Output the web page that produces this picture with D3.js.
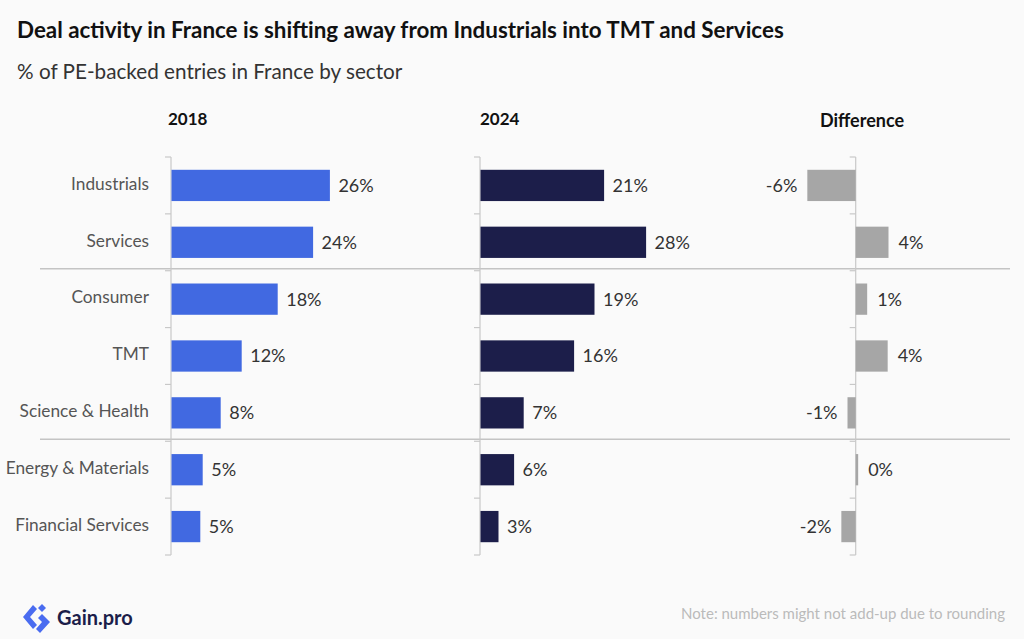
<!DOCTYPE html>
<html>
<head>
<meta charset="utf-8">
<script src="https://cdn.jsdelivr.net/npm/d3@7"></script>
<style>
  body { margin: 0; background: #fafafa; }
  text { font-family: Lato, "Noto Sans", sans-serif; }
</style>
</head>
<body>
<div id="chart"></div>
<script>
// data (% of PE-backed entries)
const sectors = ["Industrials", "Services", "Consumer", "TMT", "Science & Health", "Energy & Materials", "Financial Services"]
const share2018 = [26.4, 23.6, 17.7, 11.7, 8.2, 5.2, 4.8]
const share2024 = [20.6, 27.6, 19.0, 15.6, 7.2, 5.6, 3.0]
const difference = [-5.9, 4.0, 1.4, 3.9, -1.0, 0.3, -1.75]
const groupStarts = ["Consumer", "Energy & Materials"]   // a rule is drawn above these
const columnTitles = ["2018", "2024", "Difference"]

const width = 1024, height = 639

const svg = d3.select("#chart").append("svg")
  .attr("width", width)
  .attr("height", height)
  .style("background", "#fafafa")

// titles
svg.append("text")
  .attr("x", 17).attr("y", 38)
  .attr("font-size", 22.4).attr("font-weight", 700).attr("fill", "#111")
  .text("Deal activity in France is shifting away from Industrials into TMT and Services")

svg.append("text")
  .attr("x", 17).attr("y", 79)
  .attr("font-size", 20.7).attr("fill", "#333")
  .text("% of PE-backed entries in France by sector")

// scales
const y = d3.scaleBand()
  .domain(sectors)
  .range([157, 555])
  .paddingInner(0.45)
  .paddingOuter(0.225)

const x = d3.scaleLinear().domain([0, 10]).range([0, 60])      // 6px per point
const xd = d3.scaleLinear().domain([-10, 10]).range([-82, 82]) // difference panel

const fmt = v => Math.round(v) + "%"

// horizontal group rules
groupStarts.forEach(s => {
  const yy = y(s) - y.step() * y.paddingInner() / 2 - 2
  svg.append("line")
    .attr("x1", 40).attr("x2", 1010)
    .attr("y1", yy).attr("y2", yy)
    .attr("stroke", "#c4c4c4").attr("stroke-width", 1.5)
})

// axis with little ticks at row boundaries
const drawAxis = function (x0) {
  const g = svg.append("g").attr("transform", `translate(${x0},0)`)
  const top = y.range()[0], bottom = y.range()[1]
  g.append("line")
    .attr("x1", 0).attr("x2", 0).attr("y1", top).attr("y2", bottom)
    .attr("stroke", "#c8c8c8").attr("stroke-width", 1.2)
  g.selectAll("line.tick")
    .data(d3.range(sectors.length + 1))
    .join("line")
    .attr("class", "tick")
    .attr("x1", -6).attr("x2", 0)
    .attr("y1", i => top + i * y.step())
    .attr("y2", i => top + i * y.step())
    .attr("stroke", "#c8c8c8").attr("stroke-width", 1.2)
  return g
}

const panels = [
  { x0: 171, values: share2018, color: "#4169e1", title: columnTitles[0], tx: 168 },
  { x0: 480, values: share2024, color: "#1c1e4a", title: columnTitles[1], tx: 480 }
]

panels.forEach(p => {
  const g = drawAxis(p.x0)
  g.selectAll("rect")
    .data(p.values)
    .join("rect")
    .attr("x", 0.5)
    .attr("y", (d, i) => y(sectors[i]))
    .attr("width", d => x(d))
    .attr("height", y.bandwidth())
    .attr("fill", p.color)
  g.selectAll("text.val")
    .data(p.values)
    .join("text")
    .attr("class", "val")
    .attr("x", d => x(d) + 9)
    .attr("y", (d, i) => y(sectors[i]) + y.bandwidth() / 2)
    .attr("dy", "0.36em")
    .attr("font-size", 18).attr("fill", "#333")
    .text(fmt)
  svg.append("text")
    .attr("x", p.tx).attr("y", 125)
    .attr("font-size", 17).attr("font-weight", 700).attr("fill", "#111")
    .text(p.title)
})

// category labels
svg.append("g").selectAll("text")
  .data(sectors)
  .join("text")
  .attr("x", 149)
  .attr("y", d => y(d) + y.bandwidth() / 2 - 2)
  .attr("dy", "0.36em")
  .attr("text-anchor", "end")
  .attr("font-size", 17.3).attr("fill", "#555")
  .text(d => d)

// difference panel
const dx0 = 855.7
const gd = drawAxis(dx0)
gd.selectAll("rect")
  .data(difference)
  .join("rect")
  .attr("x", d => Math.min(xd(0), xd(d)))
  .attr("y", (d, i) => y(sectors[i]))
  .attr("width", d => Math.abs(xd(d) - xd(0)))
  .attr("height", y.bandwidth())
  .attr("fill", "#a6a6a6")
gd.selectAll("text.val")
  .data(difference)
  .join("text")
  .attr("class", "val")
  .attr("x", d => d < 0 ? xd(d) - 10 : xd(d) + 10)
  .attr("text-anchor", d => d < 0 ? "end" : "start")
  .attr("y", (d, i) => y(sectors[i]) + y.bandwidth() / 2)
  .attr("dy", "0.36em")
  .attr("font-size", 18).attr("fill", "#333")
  .text(fmt)
svg.append("text")
  .attr("x", 862).attr("y", 127)
  .attr("text-anchor", "middle")
  .attr("font-size", 18).attr("font-weight", 700).attr("fill", "#111")
  .text(columnTitles[2])

// footer
svg.append("text")
  .attr("x", 1005).attr("y", 619)
  .attr("text-anchor", "end")
  .attr("font-size", 15).attr("fill", "#bbb")
  .text("Note: numbers might not add-up due to rounding")

const logo = svg.append("g").attr("transform", "translate(23,603)")
logo.append("path")
  .attr("d", "M10,2 L14,6 L7,14 L14,22 L10,26 L0,14 Z")
  .attr("fill", "#4a6cf0")
logo.append("path")
  .attr("d", "M19,1 L23,5 L19,9 L15,5 Z")
  .attr("fill", "#4a6cf0")
logo.append("path")
  .attr("d", "M19,11 L27,19 L17,30 L13,26 L19,19 L15,15 Z")
  .attr("fill", "#4a6cf0")
logo.append("text")
  .attr("x", 34).attr("y", 22)
  .attr("font-size", 20).attr("font-weight", 700).attr("fill", "#1c1e4a")
  .text("Gain.pro")
</script>
</body>
</html>
